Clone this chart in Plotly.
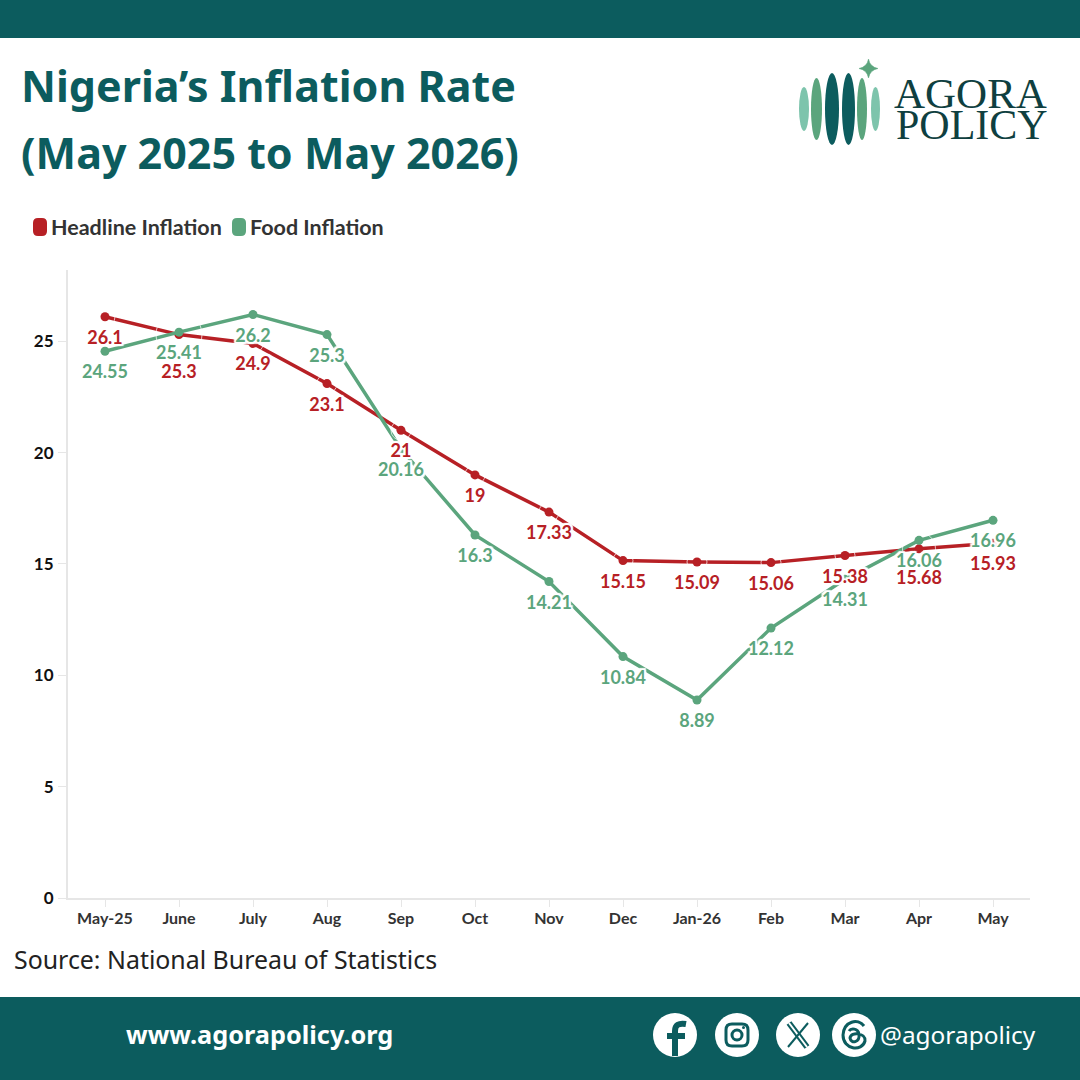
import plotly.graph_objects as go

# data
months = ["May-25", "June", "July", "Aug", "Sep", "Oct", "Nov", "Dec", "Jan-26", "Feb", "Mar", "Apr", "May"]
headline = [26.1, 25.3, 24.9, 23.1, 21, 19, 17.33, 15.15, 15.09, 15.06, 15.38, 15.68, 15.93]
food = [24.55, 25.41, 26.2, 25.3, 20.16, 16.3, 14.21, 10.84, 8.89, 12.12, 14.31, 16.06, 16.96]
y_ticks = [0, 5, 10, 15, 20, 25]

TEAL = "#0c5c5e"
RED = "#b72025"
GREEN = "#5ba57d"
LIGHT = "#7dc4ac"
HALO = ("white 0 0 2px, white 1px 1px 1px, white -1px -1px 1px, white 1px -1px 1px, white -1px 1px 1px, "
        "white 2px 0 1px, white -2px 0 1px, white 0 2px 1px, white 0 -2px 1px, "
        "white 2px 2px 1px, white -2px -2px 1px, white 2px -2px 1px, white -2px 2px 1px")
SIZE = 1080


# page pixels to paper coords
def px(x):
    return x / SIZE


def py(y):
    return 1 - y / SIZE


def path(points):
    return " ".join(p if isinstance(p, str) else f"{px(p[0]):.5f} {py(p[1]):.5f}" for p in points)


def rect(x0, y0, x1, y1, color):
    return dict(type="rect", xref="paper", yref="paper", x0=px(x0), x1=px(x1), y0=py(y0), y1=py(y1),
                fillcolor=color, line_width=0, layer="below")


def oval(x0, y0, x1, y1, color, line=None, lw=0):
    return dict(type="circle", xref="paper", yref="paper", x0=px(x0), x1=px(x1), y0=py(y0), y1=py(y1),
                fillcolor=color, line=dict(color=line or color, width=lw), layer="above")


def stroke(points, color=TEAL, width=3, fill="rgba(0,0,0,0)"):
    return dict(type="path", xref="paper", yref="paper", path=path(points), fillcolor=fill,
                line=dict(color=color, width=width), layer="above")


def round_box(x0, y0, x1, y1, r, color, width=0, fill="rgba(0,0,0,0)"):
    return stroke(["M", (x0 + r, y0), "L", (x1 - r, y0), "Q", (x1, y0), (x1, y0 + r), "L", (x1, y1 - r),
                   "Q", (x1, y1), (x1 - r, y1), "L", (x0 + r, y1), "Q", (x0, y1), (x0, y1 - r), "L", (x0, y0 + r),
                   "Q", (x0, y0), (x0 + r, y0), "Z"], color, width, fill)


def label(x, y, text, size, color, family="Lato", weight=400, anchor="left"):
    return dict(xref="paper", yref="paper", x=px(x), y=py(y), text=text, showarrow=False, xanchor=anchor,
                yanchor="middle", align="left", font=dict(family=family, size=size, color=color, weight=weight))


fig = go.Figure()

for vals, color in [(headline, RED), (food, GREEN)]:
    fig.add_trace(go.Scatter(x=months, y=vals, mode="lines+markers", showlegend=False,
                             line=dict(color=color, width=3.5), marker=dict(color=color, size=9)))

# invisible markers only push the labels below the points, two red labels sit lower to clear the green ones
red_push = [46 if m == "June" else 33 if m == "Apr" else 20 for m in months]
for vals, color, push in [(headline, RED, red_push), (food, GREEN, 20)]:
    fig.add_trace(go.Scatter(x=months, y=vals, mode="markers+text", showlegend=False, text=[str(v) for v in vals],
                             textposition="bottom center", marker=dict(size=push, color="rgba(0,0,0,0)"),
                             textfont=dict(family="Lato", size=18, color=color, weight=700, shadow=HALO)))

shapes = [rect(0, 0, 1080, 38, TEAL), rect(0, 997, 1080, 1080, TEAL)]

# legend swatches
shapes.append(round_box(33, 218, 47, 236, 5, RED, 0, RED))
shapes.append(round_box(232, 218, 246, 236, 5, GREEN, 0, GREEN))

# logo
for x0, x1, y0, y1, c in [(799, 809, 87, 131, LIGHT), (811, 822, 78, 140, GREEN), (825, 839, 73, 145, TEAL),
                          (842, 855, 73, 145, TEAL), (857, 867, 78, 140, GREEN), (871, 880, 87, 131, LIGHT)]:
    shapes.append(oval(x0, y0, x1, y1, c))
shapes.append(stroke(["M", (868.5, 59), "Q", (870, 67), (878, 68.5), "Q", (870, 70), (868.5, 78), "Q", (867, 70), (859, 68.5),
                      "Q", (867, 67), (868.5, 59), "Z"], GREEN, 0.5, GREEN))

# social icons
for cx in [675, 737, 798, 854]:
    shapes.append(oval(cx - 22, 1013, cx + 22, 1057, "white"))
shapes.append(stroke(["M", (675, 1056), "L", (675, 1031), "Q", (675, 1022), (686, 1024)], TEAL, 6))
shapes.append(stroke(["M", (667, 1036), "L", (685, 1036)], TEAL, 6))
shapes.append(round_box(726, 1024, 748, 1046, 6, TEAL, 3))
shapes.append(oval(732, 1030, 742, 1040, "white", TEAL, 3))
shapes.append(oval(742, 1026, 745, 1029, TEAL))
shapes.append(stroke(["M", (789, 1023), "L", (807, 1047)], TEAL, 6))
shapes.append(stroke(["M", (789, 1023), "L", (807, 1047)], "white", 2))
shapes.append(stroke(["M", (808, 1023), "L", (788, 1047)], TEAL, 2))
shapes.append(stroke(["M", (864, 1026), "C", (858, 1018), (844, 1021), (843, 1035), "C", (843, 1050), (862, 1052), (865, 1041),
                      "C", (866, 1033), (851, 1031), (850, 1038), "C", (851, 1044), (860, 1043), (859, 1034),
                      "C", (858, 1028), (851, 1028), (849, 1031)], TEAL, 3))

annotations = [
    label(19, 85, "Nigeria’s Inflation Rate", 43, TEAL, "Noto Sans", 700),
    label(19, 153, "(May 2025 to May 2026)", 43, TEAL, "Noto Sans", 700),
    label(49, 227, "Headline Inflation", 21.5, "#333333", "Lato", 700),
    label(248, 227, "Food Inflation", 21.5, "#333333", "Lato", 700),
    label(12, 959, "Source: National Bureau of Statistics", 24.9, "#222222", "Noto Sans"),
    label(124, 1034, "www.agorapolicy.org", 25.3, "white", "Noto Sans", 700),
    label(878, 1034, "@agorapolicy", 24.4, "white", "Noto Sans"),
    label(892, 93, "AGORA", 43, "#0f3f40", "Liberation Serif"),
    label(894, 125, "POLICY", 42, "#0f3f40", "Liberation Serif"),
]

fig.update_layout(
    width=SIZE, height=SIZE, margin=dict(l=0, r=0, t=0, b=0, autoexpand=False),
    paper_bgcolor="white", plot_bgcolor="white",
    shapes=shapes, annotations=annotations, showlegend=False,
    xaxis=dict(domain=[px(68), px(1030)], type="category", categoryorder="array", categoryarray=months,
               range=[-0.5, 12.5], showgrid=False, zeroline=False, showline=True, linecolor="#e6e6e6", linewidth=2,
               ticks="outside", ticklen=7, tickcolor="#e6e6e6", tickwidth=1, ticklabelstandoff=-2,
               tickfont=dict(family="Lato", size=16, color="#333333", weight=700)),
    yaxis=dict(domain=[py(898), py(270)], range=[0, 28.2], tickvals=y_ticks, showgrid=False, zeroline=False,
               showline=True, linecolor="#e6e6e6", linewidth=2, ticks="outside", ticklen=8, tickcolor="#e6e6e6",
               tickwidth=1, ticklabelstandoff=1, tickfont=dict(family="Lato", size=17, color="#111111", weight=700)),
)

# the default page margin would shift everything by 8px
fig.write_html("out.html", config={"displayModeBar": False}, post_script="document.body.style.margin='0';")
